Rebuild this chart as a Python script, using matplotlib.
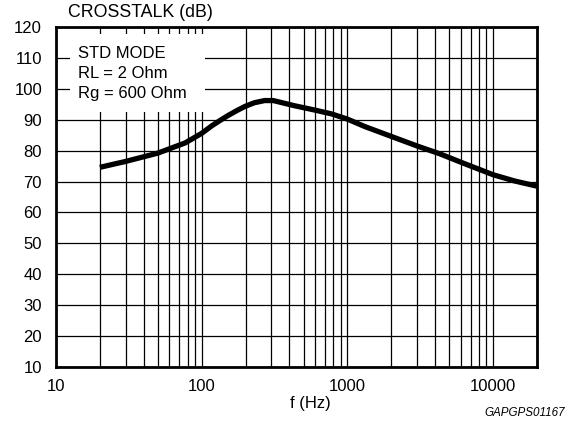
import matplotlib
matplotlib.use("Agg")
import matplotlib.pyplot as plt
from matplotlib.patches import Rectangle
from matplotlib.ticker import FixedLocator, NullFormatter

plt.rcParams['font.family'] = ['Liberation Sans', 'DejaVu Sans']

# Curve
freq_hz = [20, 30, 50, 77, 100, 117, 133, 152, 175, 198, 230, 270, 310, 436,
           600, 776, 1000, 1315, 2000, 3050, 4290, 6350, 10000, 14000, 20000]
crosstalk_db = [74.6, 76.5, 79.2, 82.5, 85.6, 88.0, 89.7, 91.4, 93.0, 94.3, 95.5, 96.2, 96.2, 94.5,
                93.1, 91.9, 90.2, 87.8, 84.6, 81.4, 79.0, 75.8, 72.2, 70.2, 68.5]

x_major = [10, 100, 1000, 10000]
x_labels = ['10', '100', '1000', '10000']
x_grid = [m * d for d in (10, 100, 1000) for m in range(2, 11)] + [20000]
y_ticks = list(range(10, 121, 10))
legend_lines = ['STD MODE', 'RL = 2 Ohm', 'Rg = 600 Ohm']

fig = plt.figure(figsize=(5.68, 4.23), dpi=100)
ax = fig.add_axes([56 / 568, 56 / 423, 481 / 568, 340 / 423])

ax.set_xscale('log')
ax.set_xlim(10, 20000)
ax.set_ylim(10, 120)

# grid
for x in x_grid:
    ax.axvline(x, color='black', lw=0.9, zorder=1)
for y in y_ticks:
    ax.axhline(y, color='black', lw=0.9, zorder=1)

# white box with the conditions
ax.add_patch(Rectangle((0.029, 0.751), 0.281, 0.228, transform=ax.transAxes,
                       facecolor='white', edgecolor='none', zorder=2))
for i, line in enumerate(legend_lines):
    ax.text(0.046, 0.909 - i * 0.0587, line, transform=ax.transAxes, fontsize=12,
            va='baseline', ha='left', zorder=3)

ax.plot(freq_hz, crosstalk_db, color='black', lw=3.8, solid_capstyle='butt',
        solid_joinstyle='round', zorder=4)

ax.xaxis.set_major_locator(FixedLocator(x_major))
ax.set_xticklabels(x_labels)
ax.xaxis.set_minor_formatter(NullFormatter())
ax.set_yticks(y_ticks)
ax.tick_params(axis='both', which='both', length=0, labelsize=12)
ax.tick_params(axis='x', pad=8.5)
ax.tick_params(axis='y', pad=10)
for s in ax.spines.values():
    s.set_linewidth(2)
    s.set_zorder(5)

fig.text(68 / 568, 1 - 12.5 / 423, 'CROSSTALK (dB)', fontsize=12.8, ha='left', va='center')
fig.text(310 / 568, 1 - 403 / 423, 'f (Hz)', fontsize=12, ha='center', va='center')
fig.text(565 / 568, 1 - 413 / 423, 'GAPGPS01167', fontsize=8.4, style='italic',
         ha='right', va='center')

fig.savefig('out.png', dpi=100)
